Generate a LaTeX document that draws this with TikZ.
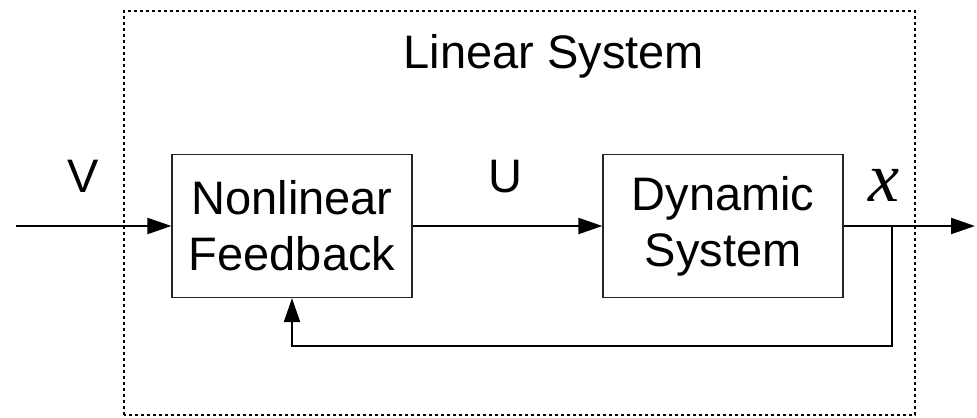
\documentclass[tikz,border=0pt]{standalone}
\usepackage{fontspec}
\setmainfont{Liberation Sans}
\newfontfamily\xfont{Liberation Serif}
\usetikzlibrary{arrows.meta,positioning}
\begin{document}
\begin{tikzpicture}[x=0.5pt,y=0.5pt,
  block/.style={draw=black!85,line width=0.6pt,minimum width=120pt,
    minimum height=71.5pt,inner sep=0pt,align=center,
    font=\fontsize{23.5}{28}\selectfont},
  lbl/.style={font=\fontsize{23.5}{28}\selectfont,inner sep=0pt,anchor=base},
  sig/.style={line width=1pt,-{Triangle[length=12pt,width=8pt]}}]
  \useasboundingbox (0,0) rectangle (977,417);
  \node[block] (nf) at (292,191) {Nonlinear\\Feedback};
  \node[block] (ds) at (723,191) {Dynamic\\System};
  \node[lbl] (title) at (554,348) {Linear System};
  \node[lbl] (v) at (83.5,224) {V};
  \node[lbl] (u) at (505,224) {U};
  \node[lbl,font=\fontsize{35}{40}\xfont\itshape] (x) at (884,215) {x};
  \coordinate (in) at (16,191);
  \coordinate (out) at (975,191);
  \coordinate (br) at (892,191);
  \coordinate (fb) at (892,71);
  \draw[sig] (in) -- (nf);
  \draw[dash pattern=on 1.5pt off 1.5pt,line width=0.7pt] (124,2) rectangle (915,406);
  \draw[sig] (nf) -- (ds);
  \draw[sig] (ds) -- (out);
  \draw[sig] (br) -- (fb) -| (nf);
\end{tikzpicture}
\end{document}
